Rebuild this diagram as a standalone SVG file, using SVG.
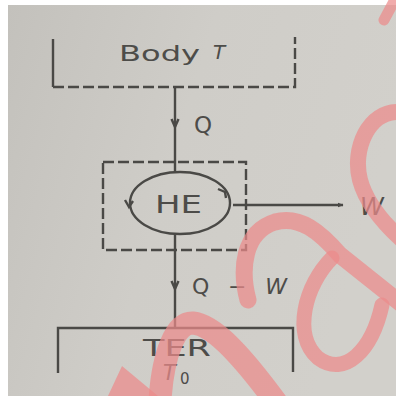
<svg xmlns="http://www.w3.org/2000/svg" width="396" height="396" viewBox="0 0 396 396">
<defs>
<linearGradient id="bg" x1="0" y1="0" x2="1" y2="0.3">
<stop offset="0" stop-color="#c3c1bc"/>
<stop offset="0.5" stop-color="#cfcdc8"/>
<stop offset="1" stop-color="#d2d0cb"/>
</linearGradient>
<marker id="ah" viewBox="0 0 10 10" refX="9" refY="5" markerWidth="6" markerHeight="6" orient="auto" markerUnits="userSpaceOnUse">
<path d="M0,1 L10,5 L0,9 Z" fill="#4a4946"/>
</marker>
<style>
.ln{stroke:#4a4946;stroke-width:2.4;fill:none}
.ds{stroke:#4a4946;stroke-width:2.4;fill:none;stroke-dasharray:11 4}
.tx{font-family:"DejaVu Sans","Liberation Sans",sans-serif;fill:#4d4c49}
.it{font-style:italic}
.wm{fill:none;stroke:#ec8a8a;stroke-opacity:0.72;stroke-linecap:round}
</style>
</defs>
<rect width="396" height="396" fill="#ffffff"/>
<rect x="8" y="5" width="388" height="391" fill="url(#bg)"/>

<g id="connectors">
<line class="ln" x1="175" y1="87" x2="175" y2="173"/>
<path d="M171.5,119 L175,127 L178.5,119" class="ln" stroke-width="1.6"/>
<line class="ln" x1="175" y1="234" x2="175" y2="328"/>
<path d="M171.5,281 L175,289 L178.5,281" class="ln" stroke-width="1.6"/>
<line class="ln" x1="233" y1="205" x2="343" y2="205" stroke-width="1.8" marker-end="url(#ah)"/>
</g>

<g id="body">
<path class="ln" d="M53,39 L53,87"/>
<path class="ds" d="M53,87 L295,87 L295,37"/>
<text class="tx" x="119" y="61" font-size="21" textLength="81" lengthAdjust="spacingAndGlyphs">Body</text>
<text class="tx it" x="213" y="59" font-size="20">T</text>
</g>

<g id="q-label"><text class="tx" x="194" y="133" font-size="23">Q</text></g>

<g id="he">
<rect class="ds" x="103" y="162" width="143" height="88"/>
<ellipse class="ln" cx="180" cy="203" rx="50" ry="31"/>
<path class="ln" stroke-width="1.8" d="M125,200 L129,207 L133,201"/>
<path class="ln" stroke-width="1.8" d="M218,189 L225,192 L226,198"/>
<text class="tx" x="155" y="213" font-size="24" textLength="47" lengthAdjust="spacingAndGlyphs">HE</text>
</g>

<g id="w-label"><text class="tx it" x="360" y="215" font-size="24">W</text></g>

<g id="qw-label"><text class="tx" x="192" y="294" font-size="22" textLength="95" lengthAdjust="spacing">Q − <tspan font-style="italic">W</tspan></text></g>

<g id="ter">
<path class="ln" d="M58,373 L58,328 L293,328 L293,372"/>
<text class="tx" x="143" y="356" font-size="23" textLength="68" lengthAdjust="spacingAndGlyphs">TER</text>
<text class="tx it" x="163" y="380" font-size="21">T</text>
<text class="tx" x="180" y="384" font-size="15">0</text>
</g>

<g id="watermark">
<path class="wm" stroke-width="11" d="M384,20 L398,-6"/>
<path class="wm" stroke-width="16" d="M400,112 C368,110 352,150 360,180 C366,202 382,222 402,240"/>
<path class="wm" stroke-width="17" d="M248,300 C240,270 243,232 275,222 C300,215 320,232 340,255 L404,306"/>
<path class="wm" stroke-width="15" d="M332,258 C305,285 292,335 318,358 C345,378 372,350 382,305"/>
<path class="wm" stroke-width="23" d="M160,400 C163,355 175,322 193,323 C215,325 245,360 276,402"/>
<polygon points="108,396 122,366 158,396" fill="#ec8a8a" fill-opacity="0.72"/>
</g>
</svg>
